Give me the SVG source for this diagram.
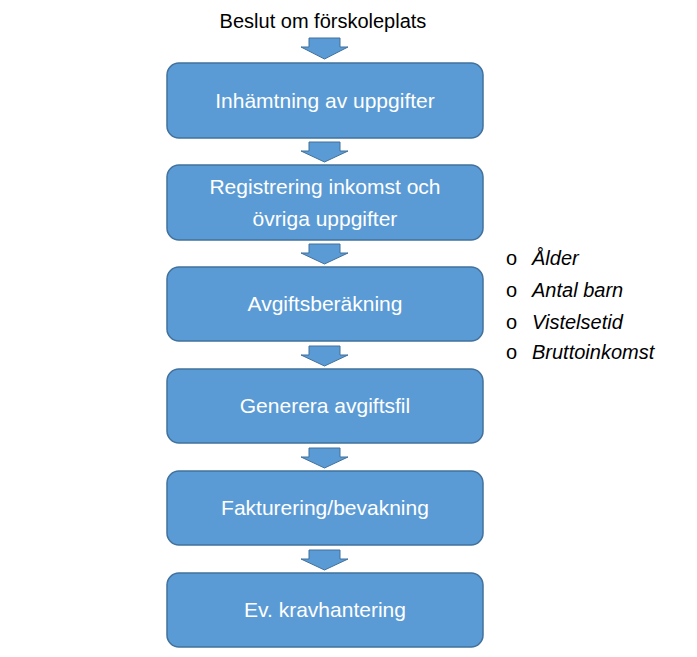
<svg xmlns="http://www.w3.org/2000/svg" width="697" height="657" viewBox="0 0 697 657">
<style>
.b{fill:#5b9bd5;stroke:#41719c;stroke-width:1.5}
.t{font-family:"Liberation Sans",Arial,sans-serif;font-size:21px;fill:#fff;text-anchor:middle}
.a{fill:#5b9bd5;stroke:#41719c;stroke-width:1}
.k{font-family:"Liberation Sans",Arial,sans-serif;font-size:20px;fill:#000}
.i{font-style:italic}
</style>
<rect width="697" height="657" fill="#fff"/>
<text class="k" x="323" y="28" text-anchor="middle" font-size="22">Beslut om förskoleplats</text>
<g id="connectors">
<path class="a" d="M309,38H340V47H348L324.5,59L301,47H309Z"/>
<path class="a" d="M309,142H340V151H348L324.5,162L301,151H309Z"/>
<path class="a" d="M309,244H340V253H348L324.5,264L301,253H309Z"/>
<path class="a" d="M309,346H340V355H348L324.5,366L301,355H309Z"/>
<path class="a" d="M309,448H340V457H348L324.5,468L301,457H309Z"/>
<path class="a" d="M309,550H340V559H348L324.5,570L301,559H309Z"/>
</g>
<g id="n1"><rect class="b" x="167" y="63" width="316" height="75" rx="12"/><text class="t" x="325" y="108">Inhämtning av uppgifter</text></g>
<g id="n2"><rect class="b" x="167" y="165" width="316" height="75" rx="12"/><text class="t" x="325" y="194">Registrering inkomst och</text><text class="t" x="325" y="226">övriga uppgifter</text></g>
<g id="n3"><rect class="b" x="167" y="267" width="316" height="74" rx="12"/><text class="t" x="325" y="311">Avgiftsberäkning</text></g>
<g id="n4"><rect class="b" x="167" y="369" width="316" height="74" rx="12"/><text class="t" x="325" y="413">Generera avgiftsfil</text></g>
<g id="n5"><rect class="b" x="167" y="471" width="316" height="74" rx="12"/><text class="t" x="325" y="515">Fakturering/bevakning</text></g>
<g id="n6"><rect class="b" x="167" y="573" width="316" height="74" rx="12"/><text class="t" x="325" y="617">Ev. kravhantering</text></g>
<g id="list">
<text class="k" x="506" y="265">o</text><text class="k i" x="532" y="265">Ålder</text>
<text class="k" x="506" y="297">o</text><text class="k i" x="532" y="297">Antal barn</text>
<text class="k" x="506" y="329">o</text><text class="k i" x="532" y="329">Vistelsetid</text>
<text class="k" x="506" y="359">o</text><text class="k i" x="532" y="359">Bruttoinkomst</text>
</g>
</svg>
